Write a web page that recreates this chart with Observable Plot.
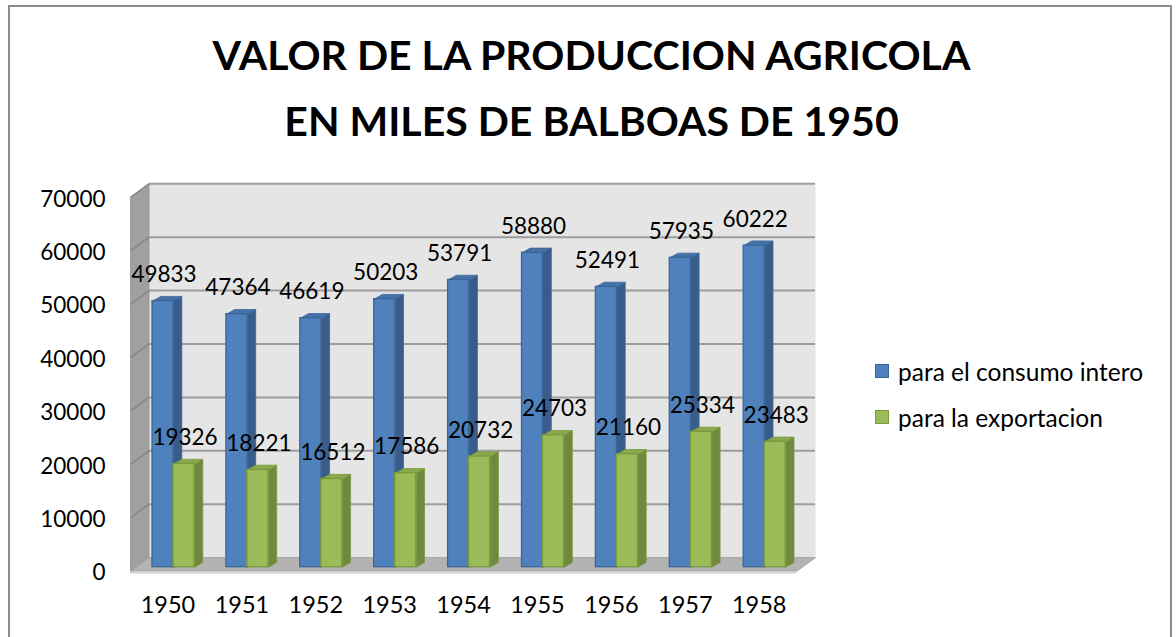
<!DOCTYPE html>
<html>
<head>
<meta charset="utf-8">
<script src="https://cdn.jsdelivr.net/npm/d3@7"></script>
<script src="https://cdn.jsdelivr.net/npm/@observablehq/plot@0.6"></script>
<style>
  html, body { margin: 0; padding: 0; background: #fff; }
  body { width: 1176px; height: 637px; overflow: hidden; position: relative; font-family: Lato, "Open Sans", sans-serif; }
  #frame { position: absolute; left: 8px; top: 5px; width: 1164px; height: 700px; border: 2px solid #8c8c8c; box-sizing: border-box; pointer-events: none; }
  #title { height: 170px; box-sizing: border-box; padding: 22px 0 0 7px; width: 1176px; text-align: center;
           font: bold 41px/66px Lato, sans-serif; color: #000; }
  #row { display: flex; flex-direction: row; }
  #legend { padding-top: 178px; padding-left: 15px; }
  .item { height: 46px; display: flex; align-items: center; font-size: 24.5px; color: #000; white-space: nowrap; }
  .sw { width: 12px; height: 12px; margin-right: 9px; border: 1px solid; flex: none; }
</style>
</head>
<body>
<div id="frame"></div>
<div id="title">VALOR DE LA PRODUCCION AGRICOLA<br>EN MILES DE BALBOAS DE 1950</div>
<div id="row"><div id="chart"></div><div id="legend"></div></div>
<script>
// ---- data ----
const years = ["1950", "1951", "1952", "1953", "1954", "1955", "1956", "1957", "1958"];
const consumo = [49833, 47364, 46619, 50203, 53791, 58880, 52491, 57935, 60222];
const exportacion = [19326, 18221, 16512, 17586, 20732, 24703, 21160, 25334, 23483];
const seriesNames = ["para el consumo intero", "para la exportacion"];
const yTicks = [0, 10000, 20000, 30000, 40000, 50000, 60000, 70000];

// ---- styling / geometry constants ----
const colors = [
  {front: "#4f81bd", side: "#385d8a", top: "#4572a9", edge: "#3b6598"},
  {front: "#9bbb59", side: "#71893f", top: "#89a94c", edge: "#7a9a3e"}
];
const W = 860, H = 467;
const xRange = [173, 173 + 73.9 * 8];
const yRange = [566.7 - 170, 192.9 - 170];
const ux = 8 / (xRange[1] - xRange[0]);          // data units per px (x)
const uy = 70000 / (yRange[0] - yRange[1]);      // data units per px (y)
const barW = 21 * ux;
const bdx = 8.3 * ux, bdy = 4.7 * uy;            // bar depth
const X0 = -0.51, X1 = 8.51, YMAX = yTicks[yTicks.length - 1];
const F = (x, v) => ({x: x - 5.3 * ux, y: v - 3.9 * uy});   // front plane of box
const B = (x, v) => ({x: x + 13.2 * ux, y: v + 9.6 * uy});  // back plane of box

// ---- bar table ----
const bars = [];
[consumo, exportacion].forEach((vals, s) => {
  vals.forEach((v, i) => {
    const x1 = s === 0 ? i - barW : i, x2 = s === 0 ? i : i + barW;
    bars.push({s, i, year: years[i], value: v, x1, x2});
  });
});
function polys(filterS, kind) {
  const pts = [];
  bars.filter(b => b.s === filterS).forEach((b, k) => {
    let p;
    if (kind === "side") p = [[b.x2, 0], [b.x2 + bdx, bdy], [b.x2 + bdx, b.value + bdy], [b.x2, b.value]];
    else p = [[b.x1, b.value], [b.x2, b.value], [b.x2 + bdx, b.value + bdy], [b.x1 + bdx, b.value + bdy]];
    p.push(p[0]);
    p.forEach(([x, y]) => pts.push({id: kind + k, x, y}));
  });
  return pts;
}
const poly = (id, arr) => arr.concat([arr[0]]).map(p => ({id, x: p.x, y: p.y}));
const sideWall = poly("side", [F(X0, 0), B(X0, 0), B(X0, YMAX), F(X0, YMAX)]);
const floor = poly("floor", [F(X0, 0), F(X1, 0), B(X1, 0), B(X0, 0)]);
const backWall = poly("back", [B(X0, 0), B(X1, 0), B(X1, YMAX), B(X0, YMAX)]);

const lineMark = (data, fill, stroke, sw) => Plot.line(data, {x: "x", y: "y", z: "id", fill, stroke, strokeWidth: sw, strokeLinejoin: "miter"});

const marks = [
  lineMark(backWall, "#e5e5e5", "none", 0),
  lineMark(sideWall, "#a0a0a0", "#909090", 0.8),
  Plot.ruleY(yTicks.slice(1), {y: d => B(X0, d).y, x1: B(X0, 0).x, x2: B(X1, 0).x, stroke: "#9d9d9d", strokeWidth: 2}),
  Plot.link(yTicks.slice(1), {x1: F(X0, 0).x, y1: d => F(X0, d).y, x2: B(X0, 0).x, y2: d => B(X0, d).y, stroke: "#878787", strokeWidth: 1.6}),
  lineMark(floor, "#b3b3b3", "#9a9a9a", 0.8),
  Plot.ruleY([0], {y: F(X0, 0).y, x1: F(X0, 0).x, x2: F(X1, 0).x, stroke: "#d2d2d2", strokeWidth: 2, dy: 1.5})
];
[0, 1].forEach(s => {
  const c = colors[s];
  marks.push(
    lineMark(polys(s, "side"), c.side, c.edge, 0.8),
    lineMark(polys(s, "top"), c.top, c.edge, 0.8),
    Plot.rect(bars.filter(b => b.s === s), {x1: "x1", x2: "x2", y1: 0, y2: "value", fill: c.front, stroke: c.edge, strokeWidth: 1.3, inset: 0})
  );
});
marks.push(
  Plot.text(bars, {x: d => (d.x1 + d.x2) / 2, y: "value", text: d => String(d.value), dy: -26, dx: 1, fill: "#000"}),
  Plot.text(yTicks, {x: F(X0, 0).x, y: d => d, text: d => String(d), textAnchor: "end", dx: -25, dy: 6, fill: "#000"}),
  Plot.text(years, {x: (d, i) => i, y: 0, text: d => d, dx: -5.5, dy: 38.3, fill: "#000", fontSize: 23.5})
);

const chart = Plot.plot({
  width: W, height: H,
  margin: 0,
  x: {type: "linear", domain: [0, 8], range: xRange, axis: null},
  y: {type: "linear", domain: [0, 70000], range: yRange, axis: null},
  style: {fontFamily: "Lato, 'Open Sans', sans-serif", fontSize: "22.5px", background: "transparent", overflow: "visible"},
  marks
});
document.getElementById("chart").appendChild(chart);

// legend
const lg = document.getElementById("legend");
seriesNames.forEach((name, s) => {
  const it = document.createElement("div");
  it.className = "item";
  const sw = document.createElement("span");
  sw.className = "sw";
  sw.style.background = colors[s].front;
  sw.style.borderColor = colors[s].edge;
  it.appendChild(sw);
  it.appendChild(document.createTextNode(name));
  lg.appendChild(it);
});
</script>
</body>
</html>
